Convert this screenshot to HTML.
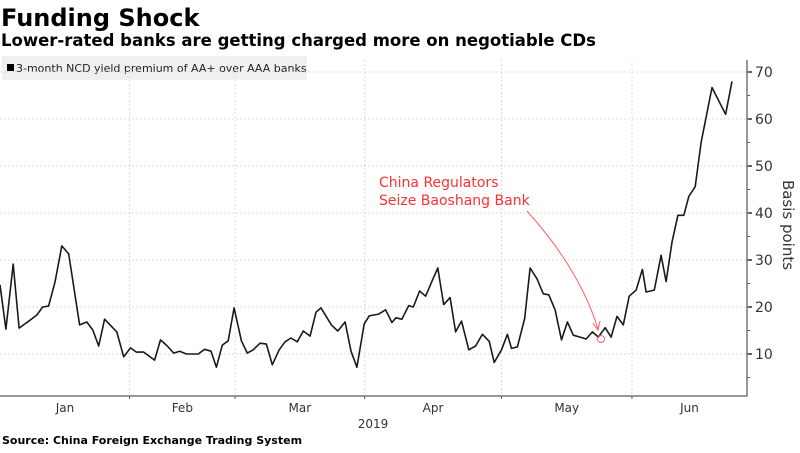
<!DOCTYPE html>
<html><head><meta charset="utf-8"><style>
body{margin:0;background:#fff;width:800px;height:449px;overflow:hidden;font-family:"DejaVu Sans","Liberation Sans",sans-serif}
</style></head><body>
<svg width="800" height="449" xmlns="http://www.w3.org/2000/svg" font-family="DejaVu Sans, Liberation Sans, sans-serif">
<text x="1" y="26" font-size="24" font-weight="bold" fill="#000">Funding Shock</text>
<text x="1" y="46" font-size="16.5" font-weight="bold" fill="#000">Lower-rated banks are getting charged more on negotiable CDs</text>
<g>
<rect x="2" y="56" width="305" height="24" fill="#f0f0f0"/>
<rect x="7" y="64" width="7" height="7" fill="#000"/>
<text x="16" y="72" font-size="11" fill="#222">3-month NCD yield premium of AA+ over AAA banks</text>
</g>
<g id="grid"></g>
<g id="axes"></g>
<path id="line" fill="none" stroke="#1a1a1a" stroke-width="1.6" stroke-linejoin="round"/>
<g>
<text x="379" y="187" font-size="14" fill="#ff3030">China Regulators</text>
<text x="379" y="205" font-size="14" fill="#ff3030">Seize Baoshang Bank</text>
<path d="M527,211 Q580,270 598,329" fill="none" stroke="#ff6060" stroke-width="1"/>
<path d="M593,323 L598,330 L600,321" fill="none" stroke="#ff6060" stroke-width="1"/>
<circle cx="601" cy="339" r="3.5" fill="none" stroke="#ff6060" stroke-width="1"/>
</g>
<text transform="translate(783,225) rotate(90)" font-size="15" fill="#333" text-anchor="middle">Basis points</text>
<text x="373" y="428" font-size="12" fill="#333" text-anchor="middle">2019</text>
<text x="2" y="444" font-size="11" font-weight="bold" fill="#000">Source: China Foreign Exchange Trading System</text>
</svg>
<script>
const days=[0,1.3,2.9,4.2,6.6,8.1,9.4,10.7,12.1,13.6,15.1,17.5,19.1,20.4,21.7,23,25.7,27.2,28.7,30,31.6,34,35.3,36.8,38.2,39.5,41,43.6,45,46.4,47.6,48.9,50.2,51.5,53.1,54.4,55.7,57.2,58.6,59.9,61.4,62.7,64,65.4,66.7,68.2,69.5,70.6,72.9,74.3,75.9,77.2,78.5,80.1,81.2,83.3,84.8,86.2,87.1,88.4,89.9,90.9,92.3,93.6,95.2,96.3,97.6,99,100.2,101.5,103.1,104.6,106.1,107.6,108.7,110.3,111.6,112.5,113.8,115.4,116.6,118.1,119.5,120.7,122.1,123.5,124.8,126.1,127.6,128.9,130.3,131.6,133.1,134.4,135.7,137.1,138.4,139.9,141.3,142.1,143.9,145.4,146.5,147.8,149.1,150.4,151.5,152.9,154.2,156.6,159.6,161];
const values=[24.7,15.3,29.1,15.5,17.2,18.3,20,20.2,25.3,33,31.3,16.2,16.8,15.1,11.7,17.4,14.7,9.4,11.3,10.4,10.4,8.7,13,11.7,10.2,10.6,10,10,11,10.6,7.2,11.9,12.8,19.8,12.8,10.2,10.9,12.3,12.1,7.7,10.9,12.6,13.4,12.6,14.9,13.8,18.9,19.8,16.2,14.9,16.8,10.6,7.2,16.4,18.1,18.5,19.4,16.7,17.7,17.4,20.3,20,23.4,22.3,25.9,28.3,20.5,22,14.7,17,10.9,11.7,14.2,12.7,8.2,10.9,14.2,11.2,11.5,17.6,28.3,26,22.8,22.6,19.4,13,16.8,14,13.6,13.2,14.7,13.6,15.6,13.6,18,16.2,22.3,23.6,28,23.2,23.6,31,25.4,33.8,39.5,39.5,43.5,45.6,55,66.7,61,68];
const yTicks=[10,20,30,40,50,60,70];
const months=["Jan","Feb","Mar","Apr","May","Jun"];
const monthStartDays=[-5,28.5,51.7,80.2,110.3,139];
const NS="http://www.w3.org/2000/svg";
const X0=0,X1=732,D0=0,D1=161,PR=747,PB=396;
const x=d=>X0+(d-D0)/(D1-D0)*(X1-X0);
const y=v=>354-(v-10)*4.7;
function mk(tag,parent,attrs){const e=document.createElementNS(NS,tag);for(const k in attrs)e.setAttribute(k,attrs[k]);parent.appendChild(e);return e;}
const grid=document.getElementById('grid'),axes=document.getElementById('axes');
yTicks.forEach(t=>{
  const g=mk('line',grid,{x1:0,x2:PR,y1:y(t),y2:y(t),stroke:'#ddd','stroke-dasharray':'2,2'});
  
  
  const tk=mk('line',axes,{x1:PR,x2:PR+5,y1:y(t),y2:y(t),stroke:'#333','stroke-width':1.5});
  
  
  const tx=mk('text',axes,{x:PR+8,y:y(t)+5,'font-size':14,fill:'#333'});
  tx.textContent=t;
  
  
  const mt=mk('line',axes,{x1:PR,x2:PR+3,y1:y(t-5),y2:y(t-5),stroke:'#555'});
  
  
});
monthStartDays.forEach((d,i)=>{
  if(i>0){
    const g=mk('line',grid,{x1:x(d),x2:x(d),y1:60,y2:PB,stroke:'#ddd','stroke-dasharray':'2,2'});
    
    
    const tk=mk('line',axes,{x1:x(d),x2:x(d),y1:PB,y2:PB+3,stroke:'#555'});
    
    
  }
  const next=i<monthStartDays.length-1?x(monthStartDays[i+1]):PR;
  const cx=i===0?65:(x(d)+next)/2;
  const t=mk('text',axes,{x:cx,y:412,'font-size':12,fill:'#333','text-anchor':'middle'});
  t.textContent=months[i];
  
  
});
const ax=mk('path',axes,{d:`M0,${PB} H${PR} V60`,fill:'none',stroke:'#777','stroke-width':1.5});


document.getElementById('line').setAttribute('d',days.map((d,i)=>(i?'L':'M')+x(d).toFixed(1)+','+y(values[i]).toFixed(1)).join(' '));
</script>
</body></html>
